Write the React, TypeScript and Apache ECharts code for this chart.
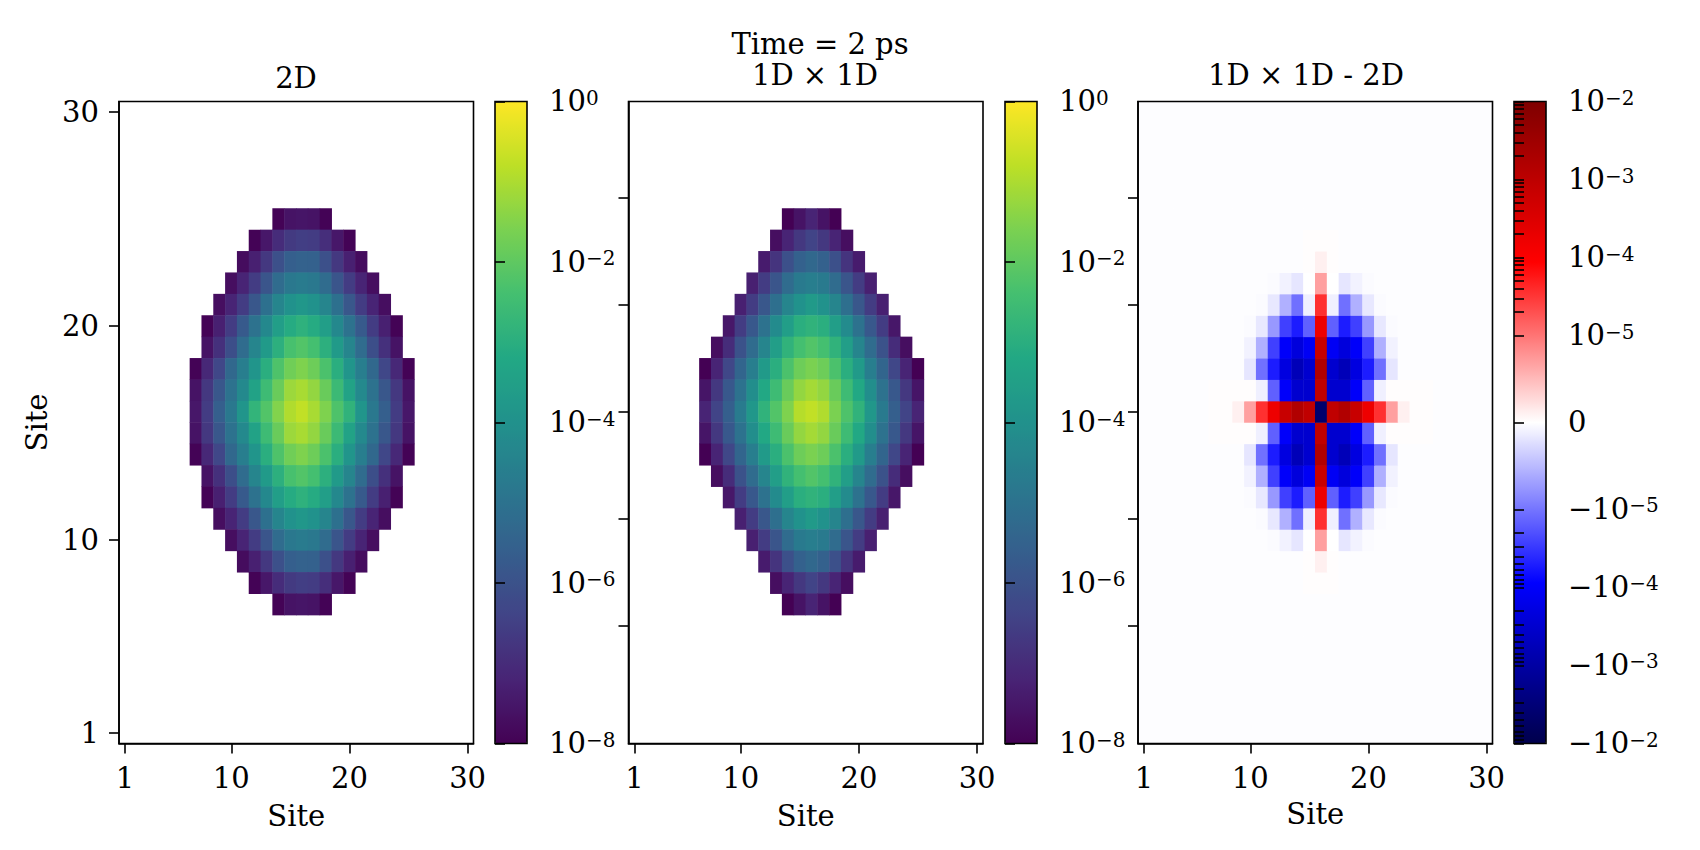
import React, { useEffect, useRef } from "react";
import * as echarts from "echarts";

const FONT = "DejaVu Serif";
const FS = 29;
const SUP = 20;

const sites = Array.from({ length: 30 }, (_, i) => String(i + 1));
const xTickSites = [1, 10, 20, 30];
const yTickSitesLabelled = [1, 10, 20, 30];
const yTickSitesPlain = [6, 11, 16, 21, 26];

// log10 of the population, rows from site 25 down to site 7, each row centred on site 16
const populationLog2D = [
  [-7.95, -7.6, -7.55, -7.6, -7.95],
  [-7.95, -7.5, -7.0, -6.65, -6.55, -6.6, -6.95, -7.5, -7.95],
  [-7.75, -7.3, -6.7, -6.05, -5.6, -5.5, -5.55, -6.05, -6.7, -7.3, -7.75],
  [-7.7, -7.2, -6.6, -5.9, -5.2, -4.8, -4.7, -4.8, -5.2, -5.9, -6.6, -7.2, -7.7],
  [-7.7, -7.2, -6.6, -5.85, -5.05, -4.4, -3.95, -3.8, -3.95, -4.4, -5.05, -5.85, -6.6, -7.2, -7.7],
  [-7.95, -7.3, -6.6, -5.75, -5.0, -4.3, -3.55, -3.1, -2.9, -3.1, -3.55, -4.3, -5.0, -5.75, -6.6, -7.3, -7.95],
  [-7.6, -6.9, -6.1, -5.2, -4.4, -3.7, -2.95, -2.35, -2.2, -2.4, -2.95, -3.7, -4.4, -5.2, -6.1, -6.9, -7.6],
  [-7.95, -7.1, -6.3, -5.3, -4.6, -3.85, -3.0, -2.25, -1.75, -1.55, -1.8, -2.3, -3.0, -3.85, -4.6, -5.3, -6.3, -7.1, -7.95],
  [-7.6, -6.7, -5.85, -5.0, -4.25, -3.4, -2.55, -1.85, -1.2, -1.05, -1.3, -1.85, -2.6, -3.4, -4.25, -5.0, -5.85, -6.7, -7.6],
  [-7.5, -6.6, -5.6, -4.8, -3.85, -2.8, -2.2, -1.5, -0.95, -0.75, -1.05, -1.55, -2.25, -2.85, -3.85, -4.8, -5.6, -6.6, -7.5],
  [-7.6, -6.7, -5.85, -5.0, -4.25, -3.4, -2.55, -1.85, -1.2, -1.05, -1.3, -1.85, -2.6, -3.4, -4.25, -5.0, -5.85, -6.7, -7.6],
  [-7.95, -7.1, -6.3, -5.3, -4.6, -3.85, -3.0, -2.25, -1.75, -1.55, -1.8, -2.3, -3.0, -3.85, -4.6, -5.3, -6.3, -7.1, -7.95],
  [-7.6, -6.9, -6.1, -5.2, -4.4, -3.7, -2.95, -2.35, -2.2, -2.4, -2.95, -3.7, -4.4, -5.2, -6.1, -6.9, -7.6],
  [-7.95, -7.3, -6.6, -5.75, -5.0, -4.3, -3.55, -3.1, -2.9, -3.1, -3.55, -4.3, -5.0, -5.75, -6.6, -7.3, -7.95],
  [-7.7, -7.2, -6.6, -5.85, -5.05, -4.4, -3.95, -3.8, -3.95, -4.4, -5.05, -5.85, -6.6, -7.2, -7.7],
  [-7.7, -7.2, -6.6, -5.9, -5.2, -4.8, -4.7, -4.8, -5.2, -5.9, -6.6, -7.2, -7.7],
  [-7.75, -7.3, -6.7, -6.05, -5.6, -5.5, -5.55, -6.05, -6.7, -7.3, -7.75],
  [-7.95, -7.5, -7.0, -6.65, -6.55, -6.6, -6.95, -7.5, -7.95],
  [-7.95, -7.6, -7.55, -7.6, -7.95],
];

const populationLog1D = [
  [-8, -7.6, -7.2, -7.6, -8],
  [-7.7, -7.2, -6.7, -6.4, -6.7, -7.2, -7.7],
  [-7.4, -6.8, -6.05, -5.55, -5.3, -5.55, -6.05, -6.8, -7.4],
  [-7.3, -6.6, -5.9, -5.2, -4.75, -4.6, -4.75, -5.2, -5.9, -6.6, -7.3],
  [-7.3, -6.6, -5.85, -5.1, -4.4, -3.95, -3.7, -3.95, -4.4, -5.1, -5.85, -6.6, -7.3],
  [-7.5, -6.6, -5.8, -5.0, -4.2, -3.55, -3.0, -2.85, -3.0, -3.55, -4.2, -5.0, -5.8, -6.6, -7.5],
  [-7.7, -7.0, -6.0, -5.2, -4.4, -3.55, -2.85, -2.4, -2.2, -2.4, -2.85, -3.55, -4.4, -5.2, -6.0, -7.0, -7.7],
  [-8, -7.2, -6.3, -5.4, -4.6, -3.7, -3.0, -2.3, -1.8, -1.6, -1.8, -2.3, -3.0, -3.7, -4.6, -5.4, -6.3, -7.2, -8],
  [-7.55, -6.7, -5.8, -5.0, -4.1, -3.2, -2.55, -1.85, -1.3, -1.1, -1.3, -1.85, -2.55, -3.2, -4.1, -5.0, -5.8, -6.7, -7.55],
  [-7.2, -6.4, -5.6, -4.7, -3.8, -2.85, -2.2, -1.55, -0.9, -0.75, -0.95, -1.6, -2.25, -2.85, -3.8, -4.75, -5.6, -6.4, -7.2],
  [-7.55, -6.7, -5.8, -5.0, -4.1, -3.2, -2.55, -1.85, -1.3, -1.1, -1.3, -1.85, -2.55, -3.2, -4.1, -5.0, -5.8, -6.7, -7.55],
  [-8, -7.2, -6.3, -5.4, -4.6, -3.7, -3.0, -2.3, -1.8, -1.6, -1.8, -2.3, -3.0, -3.7, -4.6, -5.4, -6.3, -7.2, -8],
  [-7.7, -7.0, -6.0, -5.2, -4.4, -3.55, -2.85, -2.4, -2.2, -2.4, -2.85, -3.55, -4.4, -5.2, -6.0, -7.0, -7.7],
  [-7.5, -6.6, -5.8, -5.0, -4.2, -3.55, -3.0, -2.85, -3.0, -3.55, -4.2, -5.0, -5.8, -6.6, -7.5],
  [-7.3, -6.6, -5.85, -5.1, -4.4, -3.95, -3.7, -3.95, -4.4, -5.1, -5.85, -6.6, -7.3],
  [-7.3, -6.6, -5.9, -5.2, -4.75, -4.6, -4.75, -5.2, -5.9, -6.6, -7.3],
  [-7.4, -6.8, -6.05, -5.55, -5.3, -5.55, -6.05, -6.8, -7.4],
  [-7.7, -7.2, -6.7, -6.4, -6.7, -7.2, -7.7],
  [-8, -7.6, -7.2, -7.6, -8],
];

// faint levels of the difference map
const B = -1.5e-7;
const P = 1.5e-7;

// difference 1D x 1D - 2D, rows from site 25 down to site 7, columns sites 7..25
const difference = [
  [B, B, B, B, B, B, B, B, B, B, B, B, B, B, B, B, B, B, B],
  [B, B, B, B, B, B, B, B, P, P, P, B, B, B, B, B, B, B, B],
  [B, B, B, B, B, B, B, B, P, 1.1e-6, P, B, B, B, B, B, B, B, B],
  [B, B, B, B, B, -2.9e-7, -9.4e-7, -1.8e-6, -1e-8, 6.9e-6, -1e-8, -1.8e-6, -9.4e-7, -2.9e-7, B, B, B, B, B],
  [B, B, B, B, -2.9e-7, -1.67e-6, -5.7e-6, -1.1e-5, -1.1e-6, 3.6e-5, -1.1e-6, -1.1e-5, -5.7e-6, -1.67e-6, -2.9e-7, B, B, B, B],
  [B, B, B, -2.9e-7, -1.67e-6, -7.5e-6, -2.7e-5, -5.2e-5, -1.48e-5, 1.65e-4, -1.48e-5, -5.2e-5, -2.7e-5, -7.5e-6, -1.67e-6, -2.9e-7, B, B, B],
  [B, B, B, -9.4e-7, -5.7e-6, -2.7e-5, -1e-4, -2.2e-4, -1.15e-4, 6.8e-4, -1.15e-4, -2.2e-4, -1e-4, -2.7e-5, -5.7e-6, -9.4e-7, B, B, B],
  [B, B, B, -1.8e-6, -1.1e-5, -5.2e-5, -2e-4, -5.7e-4, -3.1e-4, 1.6e-3, -3.1e-4, -5.7e-4, -2e-4, -5.2e-5, -1.1e-5, -1.8e-6, B, B, B],
  [P, P, P, P, -1.1e-6, -1.48e-5, -1e-4, -3.1e-4, -3.1e-4, 9e-4, -3.1e-4, -3.1e-4, -1e-4, -1.48e-5, -1.1e-6, P, P, P, P],
  [P, P, 1.1e-6, 6.9e-6, 3.6e-5, 1.65e-4, 6.8e-4, 1.6e-3, 9e-4, -4.2e-3, 9e-4, 1.6e-3, 6.8e-4, 1.65e-4, 3.6e-5, 6.9e-6, 1.1e-6, P, P],
  [P, P, P, P, -1.1e-6, -1.48e-5, -1e-4, -3.1e-4, -3.1e-4, 9e-4, -3.1e-4, -3.1e-4, -1e-4, -1.48e-5, -1.1e-6, P, P, P, P],
  [B, B, B, -1.8e-6, -1.1e-5, -5.2e-5, -2e-4, -5.7e-4, -3.1e-4, 1.6e-3, -3.1e-4, -5.7e-4, -2e-4, -5.2e-5, -1.1e-5, -1.8e-6, B, B, B],
  [B, B, B, -9.4e-7, -5.7e-6, -2.7e-5, -1e-4, -2.2e-4, -1.15e-4, 6.8e-4, -1.15e-4, -2.2e-4, -1e-4, -2.7e-5, -5.7e-6, -9.4e-7, B, B, B],
  [B, B, B, -2.9e-7, -1.67e-6, -7.5e-6, -2.7e-5, -5.2e-5, -1.48e-5, 1.65e-4, -1.48e-5, -5.2e-5, -2.7e-5, -7.5e-6, -1.67e-6, -2.9e-7, B, B, B],
  [B, B, B, B, -2.9e-7, -1.67e-6, -5.7e-6, -1.1e-5, -1.1e-6, 3.6e-5, -1.1e-6, -1.1e-5, -5.7e-6, -1.67e-6, -2.9e-7, B, B, B, B],
  [B, B, B, B, B, -2.9e-7, -9.4e-7, -1.8e-6, -1e-8, 6.9e-6, -1e-8, -1.8e-6, -9.4e-7, -2.9e-7, B, B, B, B, B],
  [B, B, B, B, B, B, B, B, P, 1.1e-6, P, B, B, B, B, B, B, B, B],
  [B, B, B, B, B, B, B, B, P, P, P, B, B, B, B, B, B, B, B],
  [B, B, B, B, B, B, B, B, B, B, B, B, B, B, B, B, B, B, B],
];

const viridis = ["#440154", "#482475", "#414487", "#355f8d", "#2a788e", "#21918c", "#22a884", "#44bf70", "#7ad151", "#bddf26", "#fde725"];
const seismic = ["#00004c", "#0000ff", "#ffffff", "#ff0000", "#7f0000"];

const LIN_THRESH = 1e-5;
const LIN_SCALE = 1 / (1 - 1 / 10);
const SYM_MAX = LIN_SCALE + 3;
const symlog = (v: number) => {
  const a = Math.abs(v);
  const s = a <= LIN_THRESH ? (a * LIN_SCALE) / LIN_THRESH : LIN_SCALE + Math.log10(a / LIN_THRESH);
  return v < 0 ? -s : s;
};

const logMajor = [-8, -6, -4, -2, 0];
const logLabels = ["{b|10}{s|−8}", "{b|10}{s|−6}", "{b|10}{s|−4}", "{b|10}{s|−2}", "{b|10}{s|0}"];
const symMajorValues = [-1e-2, -1e-3, -1e-4, -1e-5, 0, 1e-5, 1e-4, 1e-3, 1e-2];
const symLabels = ["{b|−10}{s|−2}", "{b|−10}{s|−3}", "{b|−10}{s|−4}", "{b|−10}{s|−5}", "{b|0}", "{b|10}{s|−5}", "{b|10}{s|−4}", "{b|10}{s|−3}", "{b|10}{s|−2}"];
const decadeStarts = [1e-5, 1e-4, 1e-3];
const decadeMultipliers = [2, 3, 4, 5, 6, 7, 8, 9];

const TOP = 101.5;
const HEIGHT = 642;
const PANEL_W = 354.5;
const panelLeft = [119, 628.5, 1138];
const barLeft = [495, 1005, 1514];
const BAR_W = 32;

const rowsToCells = (rows: number[][]) => {
  const out: number[][] = [];
  rows.forEach((row, r) => {
    const y = 25 - r - 1;
    const first = 16 - (row.length - 1) / 2 - 1;
    row.forEach((v, i) => out.push([first + i, y, v]));
  });
  return out;
};

const differenceCells = () => {
  const out: number[][] = [];
  for (let y = 0; y < 30; y++) {
    for (let x = 0; x < 30; x++) {
      const r = 24 - y;
      const c = x - 6;
      const inside = r >= 0 && r < difference.length && c >= 0 && c < 19;
      out.push([x, y, symlog(inside ? difference[r][c] : B)]);
    }
  }
  return out;
};

const tickLine = { lineStyle: { color: "#000", width: 1.6 } };

function buildOption() {
  const richLabel = {
    b: { fontFamily: FONT, fontSize: FS, color: "#000", lineHeight: 28, verticalAlign: "bottom" },
    s: { fontFamily: FONT, fontSize: SUP, color: "#000", lineHeight: 20, verticalAlign: "top" },
  };
  const grids: any[] = [];
  const xAxes: any[] = [];
  const yAxes: any[] = [];

  panelLeft.forEach((left, i) => {
    grids.push({ left, top: TOP, width: PANEL_W, height: HEIGHT, show: true, borderColor: "#000", borderWidth: 1.6, backgroundColor: "transparent", z: 5 });
    xAxes.push({
      type: "category", gridIndex: i, data: sites, position: "bottom", z: 6,
      name: "Site", nameLocation: "middle", nameGap: i === 2 ? 56 : 58,
      nameTextStyle: { fontFamily: FONT, fontSize: FS, color: "#000" },
      axisLine: { show: true, ...tickLine },
      axisTick: { show: true, length: 10, alignWithLabel: true, interval: (idx: number) => xTickSites.includes(idx + 1), ...tickLine },
      axisLabel: { show: true, interval: (idx: number) => xTickSites.includes(idx + 1), margin: 20, fontFamily: FONT, fontSize: FS, color: "#000" },
      splitLine: { show: false },
    });
    const ticks = i === 0 ? yTickSitesLabelled : yTickSitesPlain;
    yAxes.push({
      type: "category", gridIndex: i, data: sites, position: "left", z: 6,
      name: i === 0 ? "Site" : "", nameLocation: "middle", nameGap: 68,
      nameTextStyle: { fontFamily: FONT, fontSize: FS, color: "#000" },
      axisLine: { show: true, ...tickLine },
      axisTick: { show: true, length: 10, alignWithLabel: true, interval: (idx: number) => ticks.includes(idx + 1), ...tickLine },
      axisLabel: { show: i === 0, interval: (idx: number) => ticks.includes(idx + 1), margin: 20, fontFamily: FONT, fontSize: FS, color: "#000" },
      splitLine: { show: false },
    });
  });

  const minorTicks: number[] = [];
  decadeStarts.forEach((d) => decadeMultipliers.forEach((m) => minorTicks.push(symlog(d * m), symlog(-d * m))));
  const symTicks = symMajorValues.map(symlog);

  barLeft.forEach((left, i) => {
    const g = 3 + i;
    grids.push({ left, top: TOP, width: BAR_W, height: HEIGHT, show: true, borderColor: "#000", borderWidth: 1.6, backgroundColor: "transparent", z: 6 });
    xAxes.push({ type: "value", gridIndex: g, min: 0, max: 1, show: false });
    if (i < 2) {
      yAxes.push({
        type: "value", gridIndex: g, min: -8, max: 0, position: "right", z: 7,
        axisLine: { show: false },
        axisTick: { show: true, length: 10, customValues: logMajor, ...tickLine },
        axisLabel: { show: true, margin: 22, customValues: logMajor, rich: richLabel, formatter: (v: number) => logLabels[logMajor.indexOf(v)] },
        splitLine: { show: false },
      });
    } else {
      yAxes.push({
        type: "value", gridIndex: g, min: -SYM_MAX, max: SYM_MAX, position: "right", z: 7,
        axisLine: { show: false },
        axisTick: { show: true, length: 10, customValues: [...symTicks, ...minorTicks], ...tickLine },
        axisLabel: {
          show: true, margin: 22, customValues: symTicks, rich: richLabel,
          formatter: (v: number) => {
            let best = 0;
            symTicks.forEach((t, k) => { if (Math.abs(t - v) < Math.abs(symTicks[best] - v)) best = k; });
            return symLabels[best];
          },
        },
        splitLine: { show: false },
      });
    }
  });

  const series = [rowsToCells(populationLog2D), rowsToCells(populationLog1D), differenceCells()].map((data, i) => ({
    type: "heatmap", xAxisIndex: i, yAxisIndex: i, data, silent: true, progressive: 0,
    emphasis: { disabled: true }, itemStyle: { borderWidth: 0 },
  }));

  const visualMap = barLeft.map((left, i) => ({
    type: "continuous", seriesIndex: i, dimension: 2, show: true, calculable: false, hoverLink: false, realtime: false,
    min: i < 2 ? -8 : -SYM_MAX, max: i < 2 ? 0 : SYM_MAX,
    left, top: TOP, itemWidth: BAR_W, itemHeight: HEIGHT, padding: 0, orient: "vertical", align: "left",
    text: undefined, showLabel: false,
    inRange: { color: i < 2 ? viridis : seismic },
  }));

  const titleStyle = { fontFamily: FONT, fontSize: FS, fontWeight: "normal", color: "#000" };
  const title = [
    { text: "2D", left: 296, top: 63, textAlign: "center", padding: 0, textStyle: titleStyle },
    { text: "Time = 2 ps", left: 820, top: 29, textAlign: "center", padding: 0, textStyle: titleStyle },
    { text: "1D × 1D", left: 815, top: 60, textAlign: "center", padding: 0, textStyle: titleStyle },
    { text: "1D × 1D - 2D", left: 1306, top: 60, textAlign: "center", padding: 0, textStyle: titleStyle },
  ];

  return { animation: false, backgroundColor: "#fff", title, grid: grids, xAxis: xAxes, yAxis: yAxes, visualMap, series };
}

export default function App() {
  const ref = useRef<HTMLDivElement>(null);
  useEffect(() => {
    document.body.style.margin = "0";
    const chart = echarts.init(ref.current!, undefined, { renderer: "svg" });
    chart.setOption(buildOption() as any);
    return () => chart.dispose();
  }, []);
  return <div ref={ref} style={{ width: 1700, height: 850 }} />;
}
